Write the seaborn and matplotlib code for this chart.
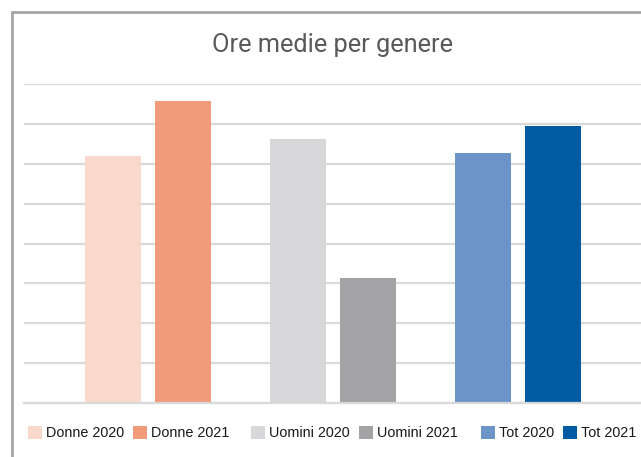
import matplotlib
matplotlib.use("Agg")
import matplotlib.pyplot as plt
from matplotlib.patches import Patch
from matplotlib.lines import Line2D
import seaborn as sns
import pandas as pd

# Data
groups = ["Donne", "Uomini", "Tot"]
years = ["2020", "2021"]
donne = [6.19, 7.57]
uomini = [6.62, 3.13]
tot = [6.27, 6.94]
series_labels = ["Donne 2020", "Donne 2021", "Uomini 2020", "Uomini 2021", "Tot 2020", "Tot 2021"]
colors = ["#F8D9CB", "#F19B7B", "#D7D6D8", "#A3A2A4", "#6D94C8", "#005BA3"]

df = pd.DataFrame({
    "gruppo": [g for g in groups for _ in years],
    "anno": years * len(groups),
    "ore": donne + uomini + tot,
})

sns.set_theme(style="white")
plt.rcParams["font.family"] = ["Liberation Sans", "DejaVu Sans"]

W, H = 641, 457
fig = plt.figure(figsize=(W / 100, H / 100), dpi=100)
ax = fig.add_axes([24 / W, 1 - 403 / H, 1 - 24 / W, (403 - 84) / H])

sns.barplot(data=df, x="gruppo", y="ore", hue="anno", order=groups, hue_order=years,
            width=0.757, gap=0.2, errorbar=None, legend=False, ax=ax,
            palette=["#cccccc", "#888888"])

# colour each bar individually (patches come grouped by hue level)
bars = [p for p in ax.patches]
n = len(groups)
for hi in range(len(years)):
    for gi in range(n):
        bars[hi * n + gi].set_facecolor(colors[gi * 2 + hi])
        bars[hi * n + gi].set_edgecolor("none")

ax.set_ylim(0, 8)
ax.set_xlim(-0.672, 2.668)
ax.set_yticks(range(0, 9))
ax.yaxis.grid(True, color="#D9D9D9", linewidth=1.6)
ax.set_axisbelow(True)
ax.tick_params(left=False, bottom=False, labelleft=False, labelbottom=False)
for s in ["top", "right", "left"]:
    ax.spines[s].set_visible(False)
ax.spines["bottom"].set_color("#D9D9D9")
ax.spines["bottom"].set_linewidth(1.6)
ax.set_xlabel("")
ax.set_ylabel("")

# Title
fig.text(332 / W, 1 - 52 / H, "Ore medie per genere", ha="center", va="baseline",
         fontsize=18.3, color="#595959", family=["Roboto", "DejaVu Sans"])

# Legend in three pairs
fs = 10.4
for k, x0 in enumerate([28, 251, 481]):
    handles = [Patch(facecolor=colors[2 * k + j], edgecolor="none") for j in range(2)]
    fig.legend(handles, series_labels[2 * k:2 * k + 2], loc="center left",
               bbox_to_anchor=(x0 / W, 1 - 433 / H), ncol=2, frameon=False,
               fontsize=fs, handlelength=0.97, handleheight=0.97, handletextpad=0.28,
               columnspacing=0.62, borderpad=0, borderaxespad=0,
               labelcolor="#1a1a1a")

# Chart border (left and top edges)
fig.add_artist(Line2D([12 / W, 12 / W], [0, 1 - 12 / H], transform=fig.transFigure,
                      color="#A6A6A6", linewidth=2))
fig.add_artist(Line2D([12 / W, 1], [1 - 12 / H, 1 - 12 / H], transform=fig.transFigure,
                      color="#A6A6A6", linewidth=2))

fig.savefig("out.png", dpi=100)
